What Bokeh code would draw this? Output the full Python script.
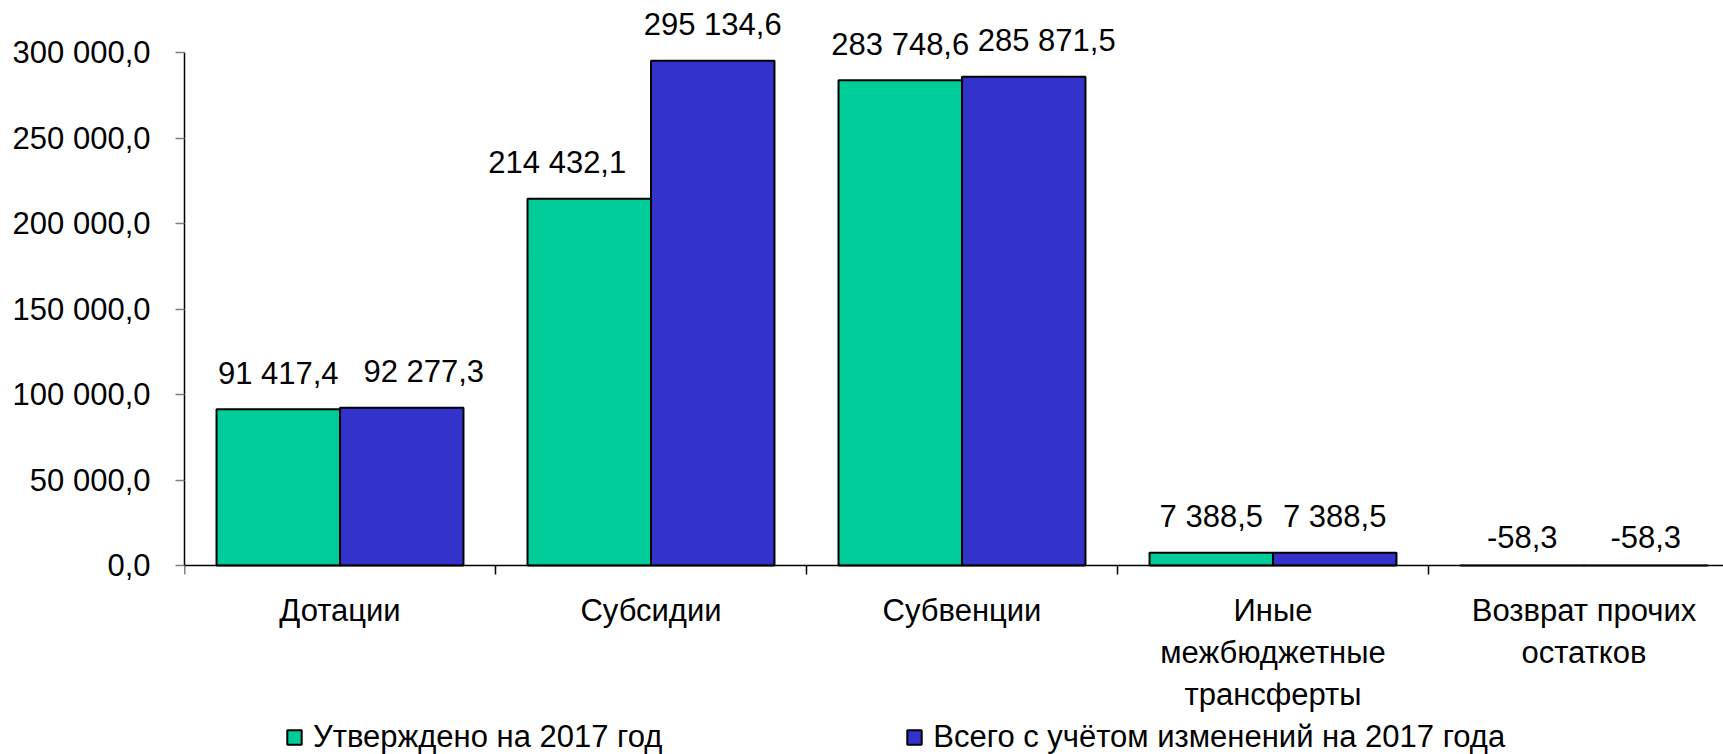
from bokeh.plotting import figure
from bokeh.models import (ColumnDataSource, Range1d, FixedTicker, Legend, LegendItem)
from bokeh.core.properties import value
from bokeh.embed import file_html
from bokeh.resources import INLINE
import numpy as np

# ---------------- data ----------------
categories = ["Дотации", "Субсидии", "Субвенции",
              "Иные\nмежбюджетные\nтрансферты", "Возврат прочих\nостатков"]
approved = [91417.4, 214432.1, 283748.6, 7388.5, -58.3]
total = [92277.3, 295134.6, 285871.5, 7388.5, -58.3]
series_names = ["Утверждено на 2017 год", "Всего с учётом изменений на 2017 года"]
y_ticks = [0, 50000, 100000, 150000, 200000, 250000, 300000]
y_tick_labels = ["0,0", "50 000,0", "100 000,0", "150 000,0",
                 "200 000,0", "250 000,0", "300 000,0"]

# ---------------- style ----------------
colors = ["#00CC99", "#3333CC"]
FONT = "Liberation Sans"
FS = "31px"
# horizontal nudges (px) of data labels, as placed in the original to avoid overlaps
nudge_approved = [0, -32, 0, 0, 0]
nudge_total = [22, 0, 23, 0, 0]


def fmt(v):
    return f"{v:,.1f}".replace(",", " ").replace(".", ",")


idx = np.arange(len(categories))
centers = idx + 0.5
bar_w = 0.397
off = bar_w / 2


def make_src(xs, vals, nudges):
    return ColumnDataSource(dict(
        x=xs, top=vals,
        ly=[max(v, 0) for v in vals],
        lbl=[fmt(v) for v in vals],
        dx=nudges,
        dy=[-36 if v >= 0 else -29 for v in vals]))


src1 = make_src(centers - off, approved, nudge_approved)
src2 = make_src(centers + off, total, nudge_total)

W, H = 1723, 754
LEFT = 184          # frame left edge (px)
ZERO_Y = 565        # pixel row of value 0
PX_PER_UNIT = 513 / 300000
CAT_W = 311         # px per category

p = figure(width=W, height=H, output_backend="svg", toolbar_location=None,
           x_range=Range1d(0, (W - LEFT) / CAT_W),
           y_range=Range1d(-(H - ZERO_Y) / PX_PER_UNIT, ZERO_Y / PX_PER_UNIT),
           min_border_left=LEFT, min_border_right=0, min_border_top=0,
           min_border_bottom=0)
p.outline_line_color = None
p.xgrid.visible = False
p.ygrid.visible = False
p.background_fill_color = "white"
p.border_fill_color = "white"

r1 = p.vbar(x="x", top="top", width=bar_w, source=src1, fill_color=colors[0],
            line_color="black", line_width=2)
r2 = p.vbar(x="x", top="top", width=bar_w, source=src2, fill_color=colors[1],
            line_color="black", line_width=2)

for s in (src1, src2):
    p.text(x="x", y="ly", text="lbl", source=s, text_align="center",
           text_baseline="middle", x_offset="dx", y_offset="dy",
           text_font=value(FONT), text_font_size=FS, text_color="black")

# x axis at value 0: labels at category centres, tick marks at category boundaries
xa = p.xaxis[0]
xa.fixed_location = 0
xa.ticker = FixedTicker(ticks=list(centers),
                        minor_ticks=list(np.arange(len(categories) + 1)))
xa.major_label_overrides = {float(c): lab for c, lab in zip(centers, categories)}
xa.major_tick_out = 0
xa.major_tick_in = 0
xa.minor_tick_out = 9
xa.minor_tick_in = 0
xa.minor_tick_line_color = "black"
xa.minor_tick_line_width = 1.5
xa.axis_line_color = "black"
xa.axis_line_width = 1.5
xa.major_label_standoff = 18
xa.major_label_text_font = FONT
xa.major_label_text_font_size = FS
xa.major_label_text_color = "black"
xa.major_label_text_align = "center"

# y axis
ya = p.yaxis[0]
ya.ticker = FixedTicker(ticks=y_ticks)
ya.major_label_overrides = {t: l for t, l in zip(y_ticks, y_tick_labels)}
ya.bounds = (0, 300000)
ya.major_tick_out = 9
ya.major_tick_in = 0
ya.minor_tick_out = 0
ya.minor_tick_in = 0
ya.major_tick_line_color = "#808080"
ya.major_tick_line_width = 1.5
ya.axis_line_color = "black"
ya.axis_line_width = 1.5
ya.major_label_standoff = 25
ya.major_label_text_font = FONT
ya.major_label_text_font_size = FS
ya.major_label_text_color = "black"

legend = Legend(items=[LegendItem(label=series_names[0], renderers=[r1]),
                       LegendItem(label=series_names[1], renderers=[r2])],
                orientation="horizontal", location=(101, -1),
                glyph_width=18, glyph_height=18, label_standoff=10, spacing=243,
                padding=0, margin=0, border_line_color=None,
                background_fill_alpha=0, label_text_font=FONT,
                label_text_font_size=FS, label_text_color="black",
                label_height=18)
p.add_layout(legend, "center")

open("out.html", "w").write(file_html(p, INLINE))
